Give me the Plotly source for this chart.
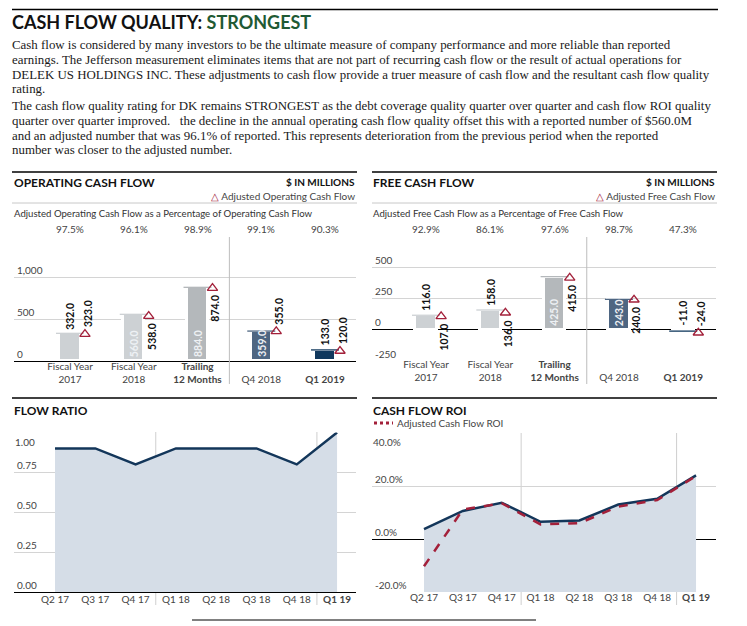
import plotly.graph_objects as go

# The page body keeps its default 8px margin, so the figure is drawn 8px in
# from the top-left corner of the window; all layout pixels below are window pixels.
OFF = 8
W, H = 747 - OFF, 626 - OFF

# ------------------------------------------------------------------ data
CATEGORIES = ["Fiscal Year<br>2017", "Fiscal Year<br>2018", "<b>Trailing<br>12 Months</b>",
              " <br>Q4 2018", " <br><b>Q1 2019</b>"]
OCF_REPORTED = [332.0, 560.0, 884.0, 359.0, 133.0]
OCF_ADJUSTED = [323.0, 538.0, 874.0, 355.0, 120.0]
OCF_PCT = ["97.5%", "96.1%", "98.9%", "99.1%", "90.3%"]

FCF_REPORTED = [116.0, 158.0, 425.0, 243.0, -11.0]
FCF_ADJUSTED = [107.0, 136.0, 415.0, 240.0, -24.0]
FCF_PCT = ["92.9%", "86.1%", "97.6%", "98.7%", "47.3%"]

QUARTERS = ["Q2 17", "Q3 17", "Q4 17", "Q1 18", "Q2 18", "Q3 18", "Q4 18", "<b>Q1 19</b>"]
FLOW_RATIO = [0.90, 0.90, 0.80, 0.90, 0.90, 0.90, 0.80, 1.00]
ROI = [3.7, 10.6, 13.7, 6.5, 7.0, 13.0, 15.2, 24.0]
ROI_ADJ = [-10.3, 11.1, 13.5, 5.5, 6.0, 12.2, 14.7, 23.8]

OCF_TICKVALS = [0, 500, 1000, 1500]
OCF_TICKTEXT = ["0", "500", "1,000", ""]
FCF_TICKVALS = [-250, 0, 250, 500, 750]
FCF_TICKTEXT = ["-250", "0", "250", "500", ""]
FR_TICKVALS = [0, 0.25, 0.5, 0.75, 1.0]
FR_TICKTEXT = ["0.00", "0.25", "0.50", "0.75", ""]
FR_TOP_LABEL = "1.00"
ROI_TICKVALS = [-20, 0, 20, 40]
ROI_TICKTEXT = ["-20.0%", "0.0%", "20.0%", ""]
ROI_TOP_LABEL = "40.0%"

HEADER_TITLE = "CASH FLOW QUALITY:"
HEADER_RATING = "STRONGEST"
BODY_LINES = [
    "Cash flow is considered by many investors to be the ultimate measure of company performance and more reliable than reported",
    "earnings. The Jefferson measurement eliminates items that are not part of recurring cash flow or the result of actual operations for",
    "DELEK US HOLDINGS INC. These adjustments to cash flow provide a truer measure of cash flow and the resultant cash flow quality",
    "rating.",
    "The cash flow quality rating for DK remains STRONGEST as the debt coverage quality quarter over quarter and cash flow ROI quality",
    "quarter over quarter improved.   the decline in the annual operating cash flow quality offset this with a reported number of $560.0M",
    "and an adjusted number that was 96.1% of reported. This represents deterioration from the previous period when the reported",
    "number was closer to the adjusted number.",
]

# ------------------------------------------------------------------ style
SANS = "Lato, 'Open Sans', sans-serif"
SERIF = "'Liberation Serif', 'DejaVu Serif', serif"
RED = "#a3203a"
NAVY = "#13365a"
FILL = "#d5dde7"
GRID = "#d4d4d4"
TXT = "#444444"
BAR_COLORS = ["#cdd1d4", "#cdd1d4", "#b4b8bb", "#4e6682", "#10385d"]
OCF_BAR_POS = ["above", "inside", "inside", "inside", "above"]
OCF_ADJ_POS = ["above", "below", "below", "above", "above"]
FCF_BAR_POS = ["above", "above", "inside", "inside", "above"]
FCF_ADJ_POS = ["below", "below", "below", "below", "above"]
BAR_W = 0.33
TRI_OFF = 0.235


def px(x):
    return (x - OFF) / W


def py(y):
    return 1 - (y - OFF) / H


fig = go.Figure()
annotations = []
shapes = []

idx5 = list(range(len(CATEGORIES)))
idx8 = list(range(len(QUARTERS)))


def bar_panel(xa, ya, reported, adjusted, bar_pos, adj_pos):
    xs = idx5
    fig.add_trace(go.Bar(x=xs, y=reported, width=BAR_W, xaxis=xa, yaxis=ya,
                         marker=dict(color=BAR_COLORS, line=dict(color="white", width=3)),
                         hoverinfo="skip"))
    # cap line at the reported value
    fig.add_trace(go.Scatter(x=xs, y=reported, mode="markers", xaxis=xa, yaxis=ya,
                             marker=dict(symbol="line-ew", size=20,
                                         line=dict(color=BAR_COLORS, width=1.3)),
                             hoverinfo="skip"))
    tx = [i + TRI_OFF for i in xs]
    fig.add_trace(go.Scatter(x=tx, y=adjusted, mode="markers", xaxis=xa, yaxis=ya,
                             marker=dict(symbol="triangle-up-open", size=9, color=RED,
                                         line=dict(color=RED, width=1.3)),
                             hoverinfo="skip"))
    for i, (v, pos) in enumerate(zip(reported, bar_pos)):
        if pos == "inside":
            y, anc, sh, col = 0, "bottom", 2, "#eef1f4"
        else:
            y, anc, sh, col = max(v, 0), "bottom", 2, "#111111"
        annotations.append(dict(x=i, y=y, xref=xa, yref=ya, text=f"<b>{v:.1f}</b>",
                                textangle=-90, showarrow=False, xanchor="center",
                                yanchor=anc, yshift=sh,
                                font=dict(family=SANS, size=10.5, color=col)))
    for i, (v, pos) in enumerate(zip(adjusted, adj_pos)):
        if pos == "below":
            y, anc, sh = v, "top", -5
        else:
            y, anc, sh = max(v, 0), "bottom", 5 if v > 0 else 2
        annotations.append(dict(x=i + TRI_OFF + 0.04, y=y, xref=xa, yref=ya,
                                text=f"<b>{v:.1f}</b>", textangle=-90, showarrow=False,
                                xanchor="center", yanchor=anc, yshift=sh,
                                font=dict(family=SANS, size=10.5, color="#111111")))


bar_panel("x", "y", OCF_REPORTED, OCF_ADJUSTED, OCF_BAR_POS, OCF_ADJ_POS)
bar_panel("x2", "y2", FCF_REPORTED, FCF_ADJUSTED, FCF_BAR_POS, FCF_ADJ_POS)

# percentage rows
for i, t in enumerate(OCF_PCT):
    annotations.append(dict(x=i, y=py(229), xref="x", yref="paper", text=t, showarrow=False,
                            font=dict(family=SANS, size=10, color=TXT)))
for i, t in enumerate(FCF_PCT):
    annotations.append(dict(x=i, y=py(229), xref="x2", yref="paper", text=t, showarrow=False,
                            font=dict(family=SANS, size=10, color=TXT)))

# flow ratio
fig.add_trace(go.Scatter(x=idx8, y=FLOW_RATIO, xaxis="x3", yaxis="y3", mode="lines",
                         fill="tozeroy", fillcolor=FILL,
                         line=dict(color=NAVY, width=2.5), hoverinfo="skip"))

# ROI
ROI_FLOOR = ROI_TICKVALS[0]
fig.add_trace(go.Scatter(x=idx8, y=[ROI_FLOOR] * len(idx8), xaxis="x4", yaxis="y4",
                         mode="lines", line=dict(width=0, color="rgba(0,0,0,0)"),
                         hoverinfo="skip"))
fig.add_trace(go.Scatter(x=idx8, y=ROI, xaxis="x4", yaxis="y4", mode="lines",
                         fill="tonexty", fillcolor=FILL,
                         line=dict(color=NAVY, width=2.5), hoverinfo="skip"))
fig.add_trace(go.Scatter(x=idx8, y=ROI_ADJ, xaxis="x4", yaxis="y4", mode="lines",
                         line=dict(color=RED, width=2.5, dash="dash"), hoverinfo="skip"))

# ------------------------------------------------------------------ axes
ytick_font = dict(family=SANS, size=10, color=TXT)
xtick_font = dict(family=SANS, size=10, color=TXT)

D_LEFT = [px(14), px(356)]
D_RIGHT = [px(372), px(716)]
D_TOP = [py(361), py(236)]
D_BOT = [py(592), py(432.5)]

common_x = dict(showgrid=False, zeroline=False, ticks="", tickfont=xtick_font, fixedrange=True)
common_y = dict(showgrid=True, gridcolor=GRID, gridwidth=1, ticks="",
                ticklabelposition="inside top", tickfont=ytick_font, fixedrange=True)

fig.update_layout(
    xaxis=dict(domain=D_LEFT, range=[-0.878, 4.486], anchor="y", tickvals=idx5,
               ticktext=CATEGORIES, showline=True, linecolor="black", linewidth=1.3,
               ticklabelstandoff=-4, **common_x),
    yaxis=dict(domain=D_TOP, range=[0, 1500], anchor="x", tickvals=OCF_TICKVALS,
               ticktext=OCF_TICKTEXT, zeroline=False, **common_y),
    xaxis2=dict(domain=D_RIGHT, range=[-0.84, 4.51], anchor="y2", tickvals=idx5,
                ticktext=CATEGORIES, showline=False, ticklabelstandoff=-4, **common_x),
    yaxis2=dict(domain=D_TOP, range=[-250, 750], anchor="x2", tickvals=FCF_TICKVALS,
                ticktext=FCF_TICKTEXT, zeroline=True, zerolinecolor="black",
                zerolinewidth=1.3, **common_y),
    xaxis3=dict(domain=D_LEFT, range=[-1.018, 7.47], anchor="y3", tickvals=idx8,
                ticktext=QUARTERS, showline=True, linecolor="black", linewidth=1.3,
                ticklabelstandoff=-2, **common_x),
    yaxis3=dict(domain=D_BOT, range=[0, 1.0], anchor="x3", tickvals=FR_TICKVALS,
                ticktext=FR_TICKTEXT, zeroline=False, **common_y),
    xaxis4=dict(domain=D_RIGHT, range=[-1.338, 7.514], anchor="y4", tickvals=idx8,
                ticktext=QUARTERS, showline=False, ticklabelstandoff=-2, **common_x),
    yaxis4=dict(domain=[py(592), py(433)], range=[-20, 40], anchor="x4",
                tickvals=ROI_TICKVALS, ticktext=ROI_TICKTEXT, zeroline=True,
                zerolinecolor="black", zerolinewidth=1.3, **common_y),
)

# top tick labels that sit below their gridline
annotations.append(dict(x=0, y=FR_TICKVALS[-1], xref="x3 domain", yref="y3", text=FR_TOP_LABEL,
                        showarrow=False, xanchor="left", yanchor="top", xshift=-1, yshift=-1,
                        font=ytick_font))
annotations.append(dict(x=0, y=ROI_TICKVALS[-1], xref="x4 domain", yref="y4", text=ROI_TOP_LABEL,
                        showarrow=False, xanchor="left", yanchor="top", xshift=-1, yshift=-1,
                        font=ytick_font))

# separators
for xa in ("x", "x2"):
    shapes.append(dict(type="line", xref=xa, yref="paper", x0=2.5, x1=2.5, y0=py(384), y1=py(237),
                       line=dict(color="#bdbdbd", width=1)))
for xa, top in [("x3", py(432)), ("x4", py(433))]:
    for xv in (2.5, 6.5):
        shapes.append(dict(type="line", xref=xa, yref="paper", x0=xv, x1=xv, y0=py(605), y1=top,
                           line=dict(color="#cfcfcf", width=1), layer="below"))


def hline(x0, x1, y, color="black", width=1.5):
    shapes.append(dict(type="line", xref="paper", yref="paper", x0=px(x0), x1=px(x1),
                       y0=py(y), y1=py(y), line=dict(color=color, width=width)))


hline(12, 718, 9.5, width=1.5)
hline(12, 357, 172, width=1.5)
hline(372, 717, 172, width=1.5)
hline(12, 357, 203, color="#c8c8c8", width=1)
hline(372, 717, 203, color="#c8c8c8", width=1)
hline(12, 357, 398, width=1.5)
hline(372, 717, 398, width=1.5)
hline(192, 536, 620, width=1)
# legend swatch for adjusted ROI
shapes.append(dict(type="line", xref="paper", yref="paper", x0=px(374), x1=px(393),
                   y0=py(423), y1=py(423), line=dict(color=RED, width=3, dash="dot")))


# ------------------------------------------------------------------ text
def txt(x, y, s, size, family=SANS, color="#111111", xanchor="left", bold=False):
    annotations.append(dict(x=px(x), y=py(y), xref="paper", yref="paper",
                            text=f"<b>{s}</b>" if bold else s, showarrow=False,
                            xanchor=xanchor, yanchor="middle",
                            font=dict(family=family, size=size, color=color)))


annotations.append(dict(x=px(10), y=py(22), xref="paper", yref="paper", showarrow=False,
                        xanchor="left", yanchor="middle",
                        text=f"<b>{HEADER_TITLE} <span style='color:#1f5a34'>{HEADER_RATING}</span></b>",
                        font=dict(family=SANS, size=18, color="#111111")))
body_y = [45, 60, 74.5, 89, 106, 121, 135.5, 150]
for s, yy in zip(BODY_LINES, body_y):
    txt(10, yy, s, 12.9, family=SERIF, color="#1a1a1a")

txt(12, 182, "OPERATING CASH FLOW", 12, bold=True)
txt(357, 182, "$ IN MILLIONS", 10, bold=True, xanchor="right")
txt(357, 196, f"<span style='color:{RED}'>△</span> Adjusted Operating Cash Flow", 10,
    color=TXT, xanchor="right")
txt(12, 213, "Adjusted Operating Cash Flow as a Percentage of Operating Cash Flow", 9.6, color="#333333")

txt(371, 182, "FREE CASH FLOW", 12, bold=True)
txt(717, 182, "$ IN MILLIONS", 10, bold=True, xanchor="right")
txt(717, 196, f"<span style='color:{RED}'>△</span> Adjusted Free Cash Flow", 10,
    color=TXT, xanchor="right")
txt(371, 213, "Adjusted Free Cash Flow as a Percentage of Free Cash Flow", 9.6, color="#333333")

txt(12, 410, "FLOW RATIO", 12, bold=True)
txt(371, 410, "CASH FLOW ROI", 12, bold=True)
txt(395, 423, "Adjusted Cash Flow ROI", 10, color=TXT)

fig.update_layout(width=W, height=H, margin=dict(l=0, r=0, t=0, b=0),
                  paper_bgcolor="white", plot_bgcolor="rgba(0,0,0,0)",
                  showlegend=False, bargap=0, annotations=annotations, shapes=shapes)

fig.write_html("out.html")
